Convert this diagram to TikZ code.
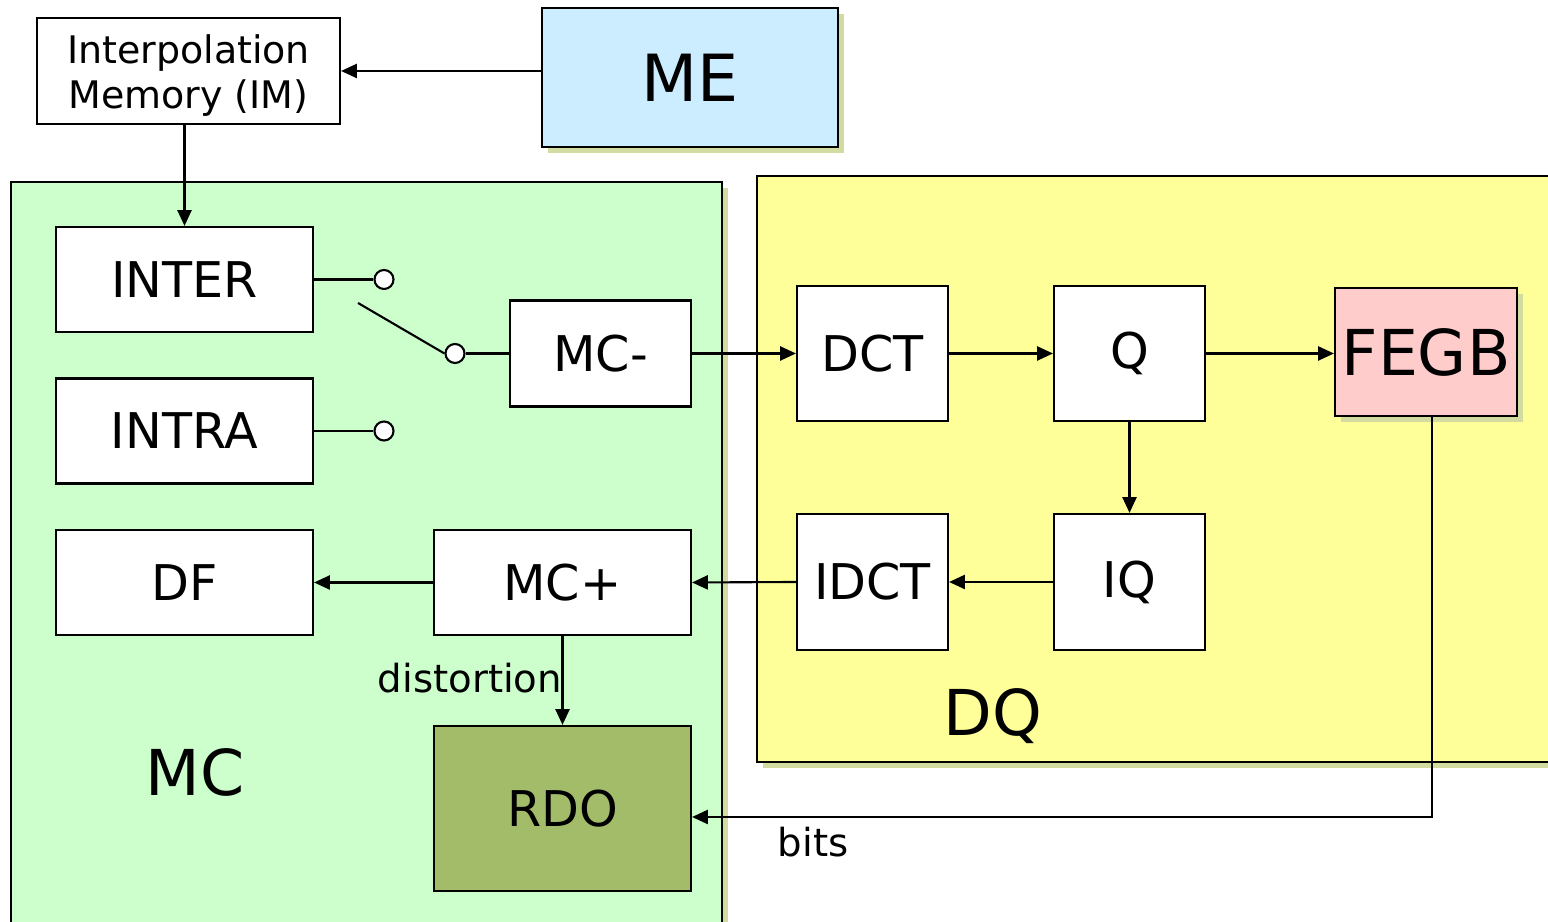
\documentclass[tikz,border=0pt]{standalone}
\usepackage{fontspec}
\setmainfont{DejaVu Sans}
\usetikzlibrary{arrows.meta, positioning, shadows}
\definecolor{meblue}{HTML}{CCECFF}
\definecolor{mcgreen}{HTML}{CCFFCC}
\definecolor{dqyellow}{HTML}{FFFF99}
\definecolor{fegbpink}{HTML}{FFCCCC}
\definecolor{rdoolive}{HTML}{A2BC69}
\definecolor{shadowtone}{HTML}{D2DCA0}
\tikzset{
  blockbox/.style={
    rectangle, draw=black, line width=0.6pt, fill=white,
    minimum width=2.57cm, minimum height=1.05cm, inner sep=0pt,
    text centered, font=\fontsize{14}{16}\selectfont
  },
  panelbox/.style={
    rectangle, draw=black, line width=0.6pt, fill=#1, inner sep=0pt
  },
  boxshadow/.style={
    drop shadow={shadow xshift=0.06cm, shadow yshift=-0.06cm,
                 fill=shadowtone, opacity=1}
  },
  sigarrow/.style={-{Triangle[length=4.5pt, width=4pt]}, line width=0.6pt},
  sigline/.style={line width=0.6pt},
  portdot/.style={circle, draw=black, line width=0.6pt, fill=white,
    minimum size=0.19cm, inner sep=0pt},
  biglabel/.style={font=\fontsize{18}{20}\selectfont},
  smalllabel/.style={font=\fontsize{11}{13}\selectfont},
}

\begin{document}
\begin{tikzpicture}
  \useasboundingbox (0,0) rectangle (15.48,9.22);
  % panels
  \node[panelbox=mcgreen, boxshadow, minimum width=7.11cm, minimum height=7.6cm]
       (mcpanel) at (3.665,3.60) {};
  \node[panelbox=dqyellow, boxshadow, minimum width=8.03cm, minimum height=5.86cm]
       (dqpanel) at (11.585,4.53) {};
  \node[biglabel] (mclabel) at (1.95,1.50) {MC};
  \node[biglabel] (dqlabel) at (9.93,2.06) {DQ};
  % top
  \node[blockbox, minimum width=3.03cm, minimum height=1.06cm, align=center,
        font=\fontsize{10.8}{12.8}\selectfont] (im) at (1.885,8.51)
        {\rule{0pt}{11pt}Interpolation\\Memory (IM)};
  \node[blockbox, boxshadow, fill=meblue, minimum width=2.96cm, minimum height=1.39cm,
        font=\fontsize{18.5}{20}\selectfont] (me) at (6.90,8.445) {ME};
  % MC blocks
  \node[blockbox] (inter) at (1.845,6.425) {INTER};
  \node[blockbox] (intra) at (1.845,4.91) {INTRA};
  \node[blockbox] (df) at (1.845,3.395) {DF};
  \node[blockbox, minimum width=1.81cm, minimum height=1.06cm] (mcminus) at (6.005,5.685) {MC-};
  \node[blockbox] (mcplus) at (5.625,3.395) {MC+};
  \node[blockbox, fill=rdoolive, minimum height=1.65cm] (rdo) at (5.625,1.135) {RDO};
  % DQ blocks
  \node[blockbox, minimum width=1.51cm, minimum height=1.35cm] (dct) at (8.725,5.685) {DCT};
  \node[blockbox, minimum width=1.51cm, minimum height=1.35cm] (quant) at (11.295,5.685) {Q};
  \node[blockbox, minimum width=1.51cm, minimum height=1.36cm] (idct) at (8.725,3.40) {IDCT};
  \node[blockbox, minimum width=1.51cm, minimum height=1.36cm] (iquant) at (11.295,3.40) {IQ};
  \node[blockbox, boxshadow, fill=fegbpink, minimum width=1.82cm, minimum height=1.28cm,
        font=\fontsize{18}{20}\selectfont] (fegb) at (14.26,5.70) {FEGB};
  % switch
  \node[portdot] (s0) at (3.84,6.425) {};
  \node[portdot] (s1) at (3.84,4.91) {};
  \node[portdot] (s2) at (4.55,5.685) {};
  \coordinate (blade) at (3.58,6.19);
  \coordinate (bitcorner) at (14.32,1.05);
  \draw[sigline] (inter.east) -- (s0);
  \draw[sigline] (intra.east) -- (s1);
  \draw[sigline] (blade) -- (s2.west);
  \draw[sigline] (s2) -- (mcminus.west);
  % connectors
  \draw[sigarrow] (me.west |- im.east) -- (im.east);
  \draw[sigarrow] (im.south -| inter.north) -- (inter.north);
  \draw[sigarrow] (mcminus.east) -- (dct.west);
  \draw[sigarrow] (dct.east) -- (quant.west);
  \draw[sigarrow] (quant.east) -- (quant.east -| fegb.west);
  \draw[sigarrow] (quant.south) -- (iquant.north);
  \draw[sigarrow] (iquant.west) -- (idct.east);
  \draw[sigarrow] (idct.west) -- (mcplus.east);
  \draw[sigarrow] (mcplus.west) -- (df.east);
  \draw[sigarrow] (mcplus.south) -- (rdo.north);
  \draw[sigarrow] (fegb.south -| bitcorner) -- (bitcorner) -- (rdo.east |- bitcorner);
  \node[smalllabel] (distlabel) at (4.70,2.44) {distortion};
  \node[smalllabel] (bitslabel) at (8.13,0.80) {bits};
\end{tikzpicture}
\end{document}
